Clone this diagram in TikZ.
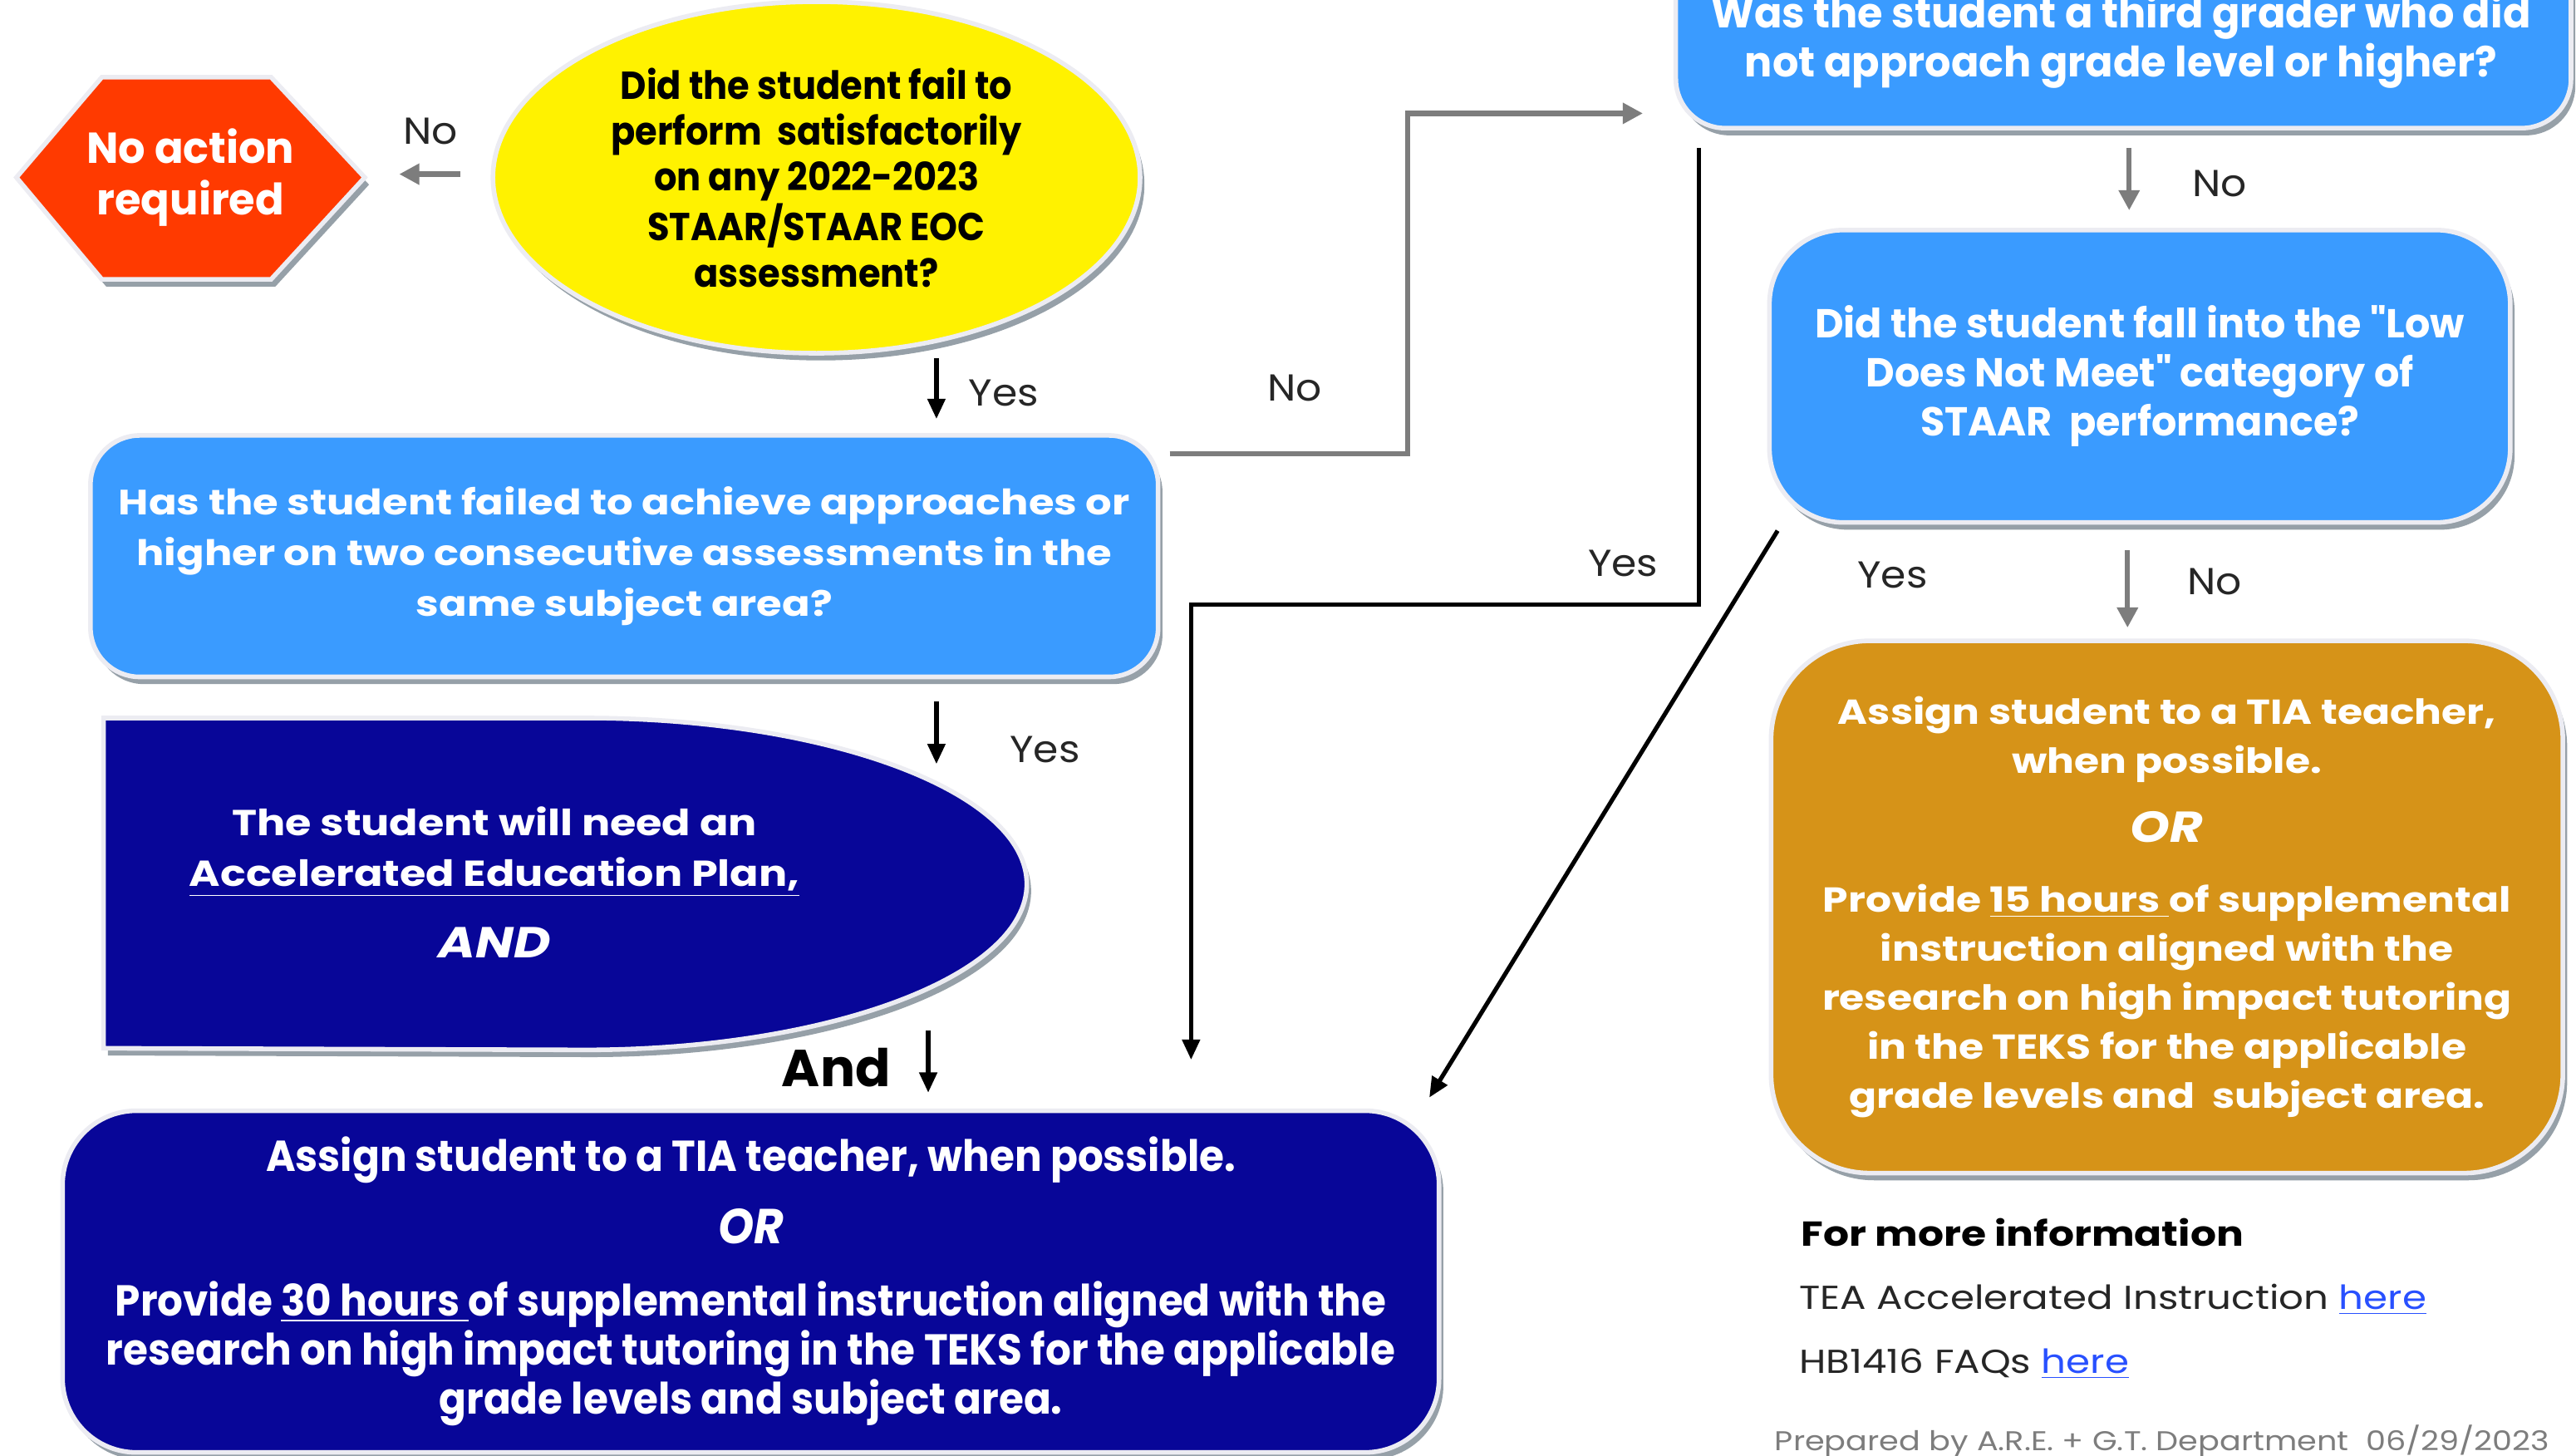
\documentclass[tikz,border=0pt]{standalone}
\usepackage{fontspec}
\setmainfont{Poppins}
\newfontfamily\fwide{Poppins}[FakeStretch=1.17]
\newfontfamily\fyel{Poppins}[FakeStretch=0.92]
\newfontfamily\fbot{Poppins}[FakeStretch=0.93]
\newfontfamily\fcond{Poppins}[FakeStretch=0.98]
\newfontfamily\flbl{Poppins}[FakeStretch=1.08]
\usetikzlibrary{arrows.meta,shapes.geometric,shadows}
\definecolor{hexred}{RGB}{255,58,0}
\definecolor{qblue}{RGB}{58,155,255}
\definecolor{navy}{RGB}{8,6,152}
\definecolor{gold}{RGB}{214,147,24}
\definecolor{shade}{RGB}{150,160,168}
\definecolor{rim}{RGB}{236,236,242}
\definecolor{arrgrey}{RGB}{125,125,125}
\definecolor{linkblue}{RGB}{40,80,255}
\definecolor{notegrey}{RGB}{125,125,125}
\begin{document}
\begin{tikzpicture}[x=0.02cm,y=-0.02cm,
  shapebase/.style={draw=rim, line width=1.6pt,
    drop shadow={shadow xshift=1.5pt, shadow yshift=-2.5pt, fill=shade, opacity=1}},
  boxnode/.style={shapebase, rectangle, inner sep=0pt, align=center, text=white},
  lbl/.style={font=\flbl\fontsize{13}{15}\selectfont, text=black!85},
  blackarr/.style={draw=black, line width=1.5pt, -{Triangle[length=7pt,width=6pt]}},
  greyarr/.style={draw=arrgrey, line width=1.8pt, -{Triangle[length=7pt,width=7pt]}},
]
\useasboundingbox (0,0) rectangle (1568,886);
\clip (0,0) rectangle (1568,886);
\fill[white] (0,0) rectangle (1568,886);

% hexagon
\path[shapebase, fill=hexred] (10,108) -- (62,47) -- (165,47) -- (222,108) -- (165,170) -- (62,170) -- cycle;
\node[align=center, text=white, font=\fcond\bfseries\fontsize{15}{17.6}\selectfont] (noact) at (116,108) {No action\\required};

% yellow ellipse
\node[shapebase, ellipse, fill=yellow, minimum width=7.88cm, minimum height=4.28cm, inner sep=0pt] (q1) at (497,108) {};
\node[align=center, text=black, font=\fyel\bfseries\fontsize{13.5}{15.9}\selectfont] (q1t) at (q1.center) {Did the student fail to\\perform\ \ satisfactorily\\on any 2022-2023\\STAAR/STAAR EOC\\assessment?};

% box 1
\node[boxnode, fill=qblue, rounded corners=0.6cm, minimum width=13cm, minimum height=2.94cm,
  font=\fwide\bfseries\fontsize{12.2}{17.6}\selectfont] (q2) at (380,338.5)
  {Has the student failed to achieve approaches or\\higher on two consecutive assessments in the\\same subject area?};

% box 2 (top right)
\node[boxnode, fill=qblue, rounded corners=0.6cm, minimum width=10.9cm, minimum height=2.76cm] (q3) at (1292.5,9) {};
\node[align=center, text=white, font=\fcond\bfseries\fontsize{14.5}{17}\selectfont] (q3t) at (1291,25)
  {Was the student a third grader who did\\not approach grade level or higher?};

% box 3
\node[boxnode, fill=qblue, rounded corners=0.9cm, minimum width=9.02cm, minimum height=3.56cm,
  font=\fcond\bfseries\fontsize{14}{17}\selectfont] (q4) at (1302.5,229)
  {Did the student fall into the "Low\\Does Not Meet" category of\\STAAR\ \ performance?};

% gold box
\node[boxnode, fill=gold, rounded corners=1.2cm, minimum width=9.64cm, minimum height=6.48cm,
  font=\fwide\bfseries\fontsize{12}{17}\selectfont] (r2) at (1319,552)
  {Assign student to a TIA teacher,\\when possible.\\[7pt]{\fontsize{15}{17}\selectfont\itshape OR}\\[7pt]Provide \underline{15 hours }of supplemental\\instruction aligned with the\\research on high impact tutoring\\in the TEKS for the applicable\\grade levels and\ \ subject area.};

% D shape
\path[shapebase, fill=navy] (63,437) -- (356,437) arc[start angle=-90, end angle=90, x radius=269, y radius=101] -- (63,638) -- cycle;
\node[align=center, text=white, font=\fwide\bfseries\fontsize{12.5}{17.6}\selectfont] (aep) at (301,537)
  {The student will need an\\\underline{Accelerated Education Plan,}\\[7pt]{\fontsize{15}{17}\selectfont\itshape AND}};

% bottom navy box
\node[boxnode, fill=navy, rounded corners=0.9cm, minimum width=16.76cm, minimum height=4.16cm,
  font=\fbot\bfseries\fontsize{15}{17}\selectfont] (r1) at (457,780)
  {Assign student to a TIA teacher, when possible.\\[8pt]{\fontsize{17}{17}\selectfont\itshape OR}\\[8pt]Provide \underline{30 hours }of supplemental instruction aligned with the\\research on high impact tutoring in the TEKS for the applicable\\grade levels and subject area.};

% info text
\node[anchor=west, inner sep=0pt, font=\fwide\bfseries\fontsize{12}{14}\selectfont] (info) at (1096,750) {For more information};
\node[anchor=west, inner sep=0pt, font=\fwide\fontsize{11.5}{14}\selectfont, text=black!85] (tea) at (1095,791) {TEA Accelerated Instruction \textcolor{linkblue}{\underline{here}}};
\node[anchor=west, inner sep=0pt, font=\fwide\fontsize{11.5}{14}\selectfont, text=black!85] (faq) at (1095,830) {HB1416 FAQs \textcolor{linkblue}{\underline{here}}};
\node[anchor=west, inner sep=0pt, font=\fwide\fontsize{9.4}{12}\selectfont, text=notegrey] (prep) at (1080,877) {Prepared by A.R.E. + G.T. Department\ \ 06/29/2023};

% coordinates for connector ends
\coordinate (a1s) at (280,106); \coordinate (a1e) at (243,106);
\coordinate (a2s) at (570,218); \coordinate (a2e) at (570,255);
\coordinate (a3s) at (712,276); \coordinate (a3e) at (1000,69);
\coordinate (a4s) at (1034,90); \coordinate (a4e) at (725,645);
\coordinate (a5s) at (1296,90); \coordinate (a5e) at (1296,128);
\coordinate (a6s) at (1082,323); \coordinate (a6e) at (870,668);
\coordinate (a7s) at (1295,335); \coordinate (a7e) at (1295,382);
\coordinate (a8s) at (570,427); \coordinate (a8e) at (570,465);
\coordinate (a9s) at (565,627); \coordinate (a9e) at (565,665);

\draw[greyarr] (a1s) -- (a1e);
\draw[blackarr] (a2s) -- (a2e);
\draw[greyarr] (a3s) -- ++(145,0) |- (a3e);
\draw[blackarr] (a4s) -- (1034,368) -| (a4e);
\draw[greyarr] (a5s) -- (a5e);
\draw[blackarr] (a6s) -- (a6e);
\draw[greyarr] (a7s) -- (a7e);
\draw[blackarr] (a8s) -- (a8e);
\draw[blackarr] (a9s) -- (a9e);

% labels
\node[lbl] (l1) at (262,80) {No};
\node[lbl] (l2) at (611,239) {Yes};
\node[lbl] (l3) at (788,236) {No};
\node[lbl] (l4) at (988,343) {Yes};
\node[lbl] (l5) at (1351,112) {No};
\node[lbl] (l6) at (1152,350) {Yes};
\node[lbl] (l7) at (1348,354) {No};
\node[lbl] (l8) at (636,456) {Yes};
\node[font=\bfseries\fontsize{18}{20}\selectfont] (and) at (509,650) {And};
\end{tikzpicture}
\end{document}
